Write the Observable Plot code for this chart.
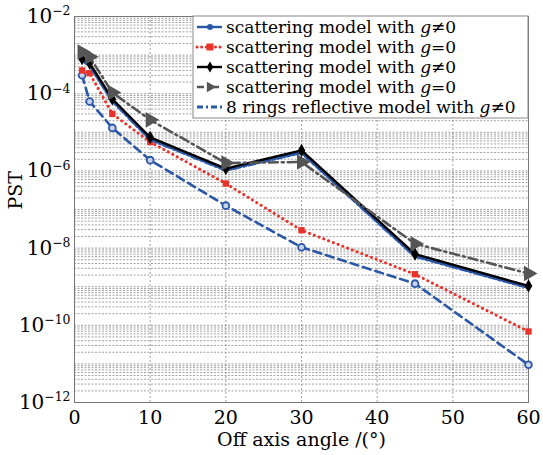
<!DOCTYPE html>
<html><head><meta charset="utf-8">
<script src="https://cdn.jsdelivr.net/npm/d3@7"></script>
<script src="https://cdn.jsdelivr.net/npm/@observablehq/plot@0.6"></script>
<style>body{margin:0;background:#fff}</style>
</head><body><div id="chart"></div>
<script>
const angles = [1, 2, 5, 10, 20, 30, 45, 60];
const s1 = [3.0e-4, 6.3e-5, 1.3e-5, 1.9e-6, 1.26e-7, 1.05e-8, 1.2e-9, 9.5e-12];
const s2 = [4.0e-4, 3.4e-4, 3.0e-5, 5.6e-6, 4.7e-7, 2.9e-8, 2.1e-9, 6.9e-11];
const s3 = [8.1e-4, 6.2e-4, 7.3e-5, 7.4e-6, 1.15e-6, 3.4e-6, 7.0e-9, 1.05e-9];
const s4 = [1.2e-3, 9.0e-4, 1.07e-4, 2.1e-5, 1.6e-6, 1.7e-6, 1.3e-8, 2.2e-9];
const s5 = [7.4e-4, 5.4e-4, 6.6e-5, 6.6e-6, 1.05e-6, 3.0e-6, 6.2e-9, 9.5e-10];
const labels = [
  "scattering model with g≠0",
  "scattering model with g=0",
  "scattering model with g≠0",
  "scattering model with g=0",
  "8 rings reflective model with g≠0"
];
const xTicks = [0, 10, 20, 30, 40, 50, 60];
const yTicks = [1e-12, 1e-10, 1e-8, 1e-6, 1e-4, 1e-2];
const xLabel = "Off axis angle /(°)";
const yLabel = "PST";

const blue = "#2b57a7", red = "#e8322a", black = "#000", gray = "#555";
const rows = a => angles.map((x, i) => ({x, y: a[i]}));

const yGrid = [];
for (let e = -12; e < -2; e++) for (let k = 1; k <= 9; k++) yGrid.push(k * Math.pow(10, e));

const font = "DejaVu Serif";
const chart = Plot.plot({
  width: 543, height: 455,
  marginLeft: 74, marginRight: 15, marginTop: 16, marginBottom: 53,
  style: {fontFamily: font, background: "#fff", color: "#000"},
  x: {domain: [0, 60]},
  y: {type: "log", domain: [1e-12, 1e-2]},
  marks: [
    Plot.ruleY(yGrid, {stroke: "#8a8a8a", strokeWidth: 0.8, strokeDasharray: "2,1.5"}),
    Plot.ruleX([10, 20, 30, 40, 50], {stroke: "#8a8a8a", strokeWidth: 0.8, strokeDasharray: "2,2"}),
    Plot.frame({stroke: "#777", strokeWidth: 1}),
    Plot.axisX({ticks: xTicks, tickSize: 0, tickPadding: 8, fontSize: 19, label: null, tickFormat: d => String(d)}),
    Plot.axisY({ticks: yTicks, tickSize: 0, tickPadding: 4, fontSize: 20, label: null,
      tickFormat: d => "10^" + String(Math.round(Math.log10(d))).replace("-", "−")}),
    Plot.text([xLabel], {frameAnchor: "bottom", dy: 43, fontSize: 19}),
    Plot.text([yLabel], {frameAnchor: "left", dx: -59, rotate: -90, fontSize: 19}),
    Plot.line(rows(s1), {x: "x", y: "y", stroke: blue, strokeWidth: 2.6, strokeDasharray: "8,5"}),
    Plot.dot(rows(s1), {x: "x", y: "y", r: 3.4, stroke: blue, fill: "#c9d4ec", strokeWidth: 1.8}),
    Plot.line(rows(s2), {x: "x", y: "y", stroke: red, strokeWidth: 3, strokeDasharray: "0.1,5", strokeLinecap: "round"}),
    Plot.dot(rows(s2), {x: "x", y: "y", r: 3.6, symbol: "square", fill: red}),
    Plot.line(rows(s5), {x: "x", y: "y", stroke: blue, strokeWidth: 3.4, strokeDasharray: "7,3,2,3"}),
    Plot.line(rows(s3), {x: "x", y: "y", stroke: black, strokeWidth: 2.4}),
    Plot.dot(rows(s3), {x: "x", y: "y", r: 4, symbol: "diamond", fill: black}),
    Plot.line(rows(s4), {x: "x", y: "y", stroke: gray, strokeWidth: 2.6, strokeDasharray: "9,4,2,4"}),
    Plot.dot(rows(s4), {x: "x", y: "y", r: 5.8, symbol: "triangle", rotate: 90, fill: gray})
  ]
});
document.getElementById("chart").appendChild(chart);

// superscript exponents on y tick labels
chart.querySelectorAll('g[aria-label="y-axis tick label"] text').forEach(t => {
  const [b, e] = t.textContent.split("^");
  t.textContent = "";
  const ns = "http://www.w3.org/2000/svg";
  const t1 = document.createElementNS(ns, "tspan"); t1.textContent = b;
  const t2 = document.createElementNS(ns, "tspan"); t2.textContent = e;
  t2.setAttribute("dy", "-0.6em"); t2.setAttribute("font-size", "0.62em");
  t.appendChild(t1); t.appendChild(t2);
});

// legend
const svg = d3.select(chart);
const lg = svg.append("g").attr("font-family", font).attr("font-size", 17).attr("text-anchor", "start");
const lx = 193, ly = 16, lw = 528 - 193, lh = 102;
lg.append("rect").attr("x", lx).attr("y", ly).attr("width", lw).attr("height", lh)
  .attr("fill", "#fff").attr("stroke", "#888");
const styles = [
  {stroke: blue, dash: null, w: 2.4, sym: "circle"},
  {stroke: red, dash: "0.1,4.5", w: 3, sym: "square"},
  {stroke: black, dash: null, w: 2.4, sym: "diamond"},
  {stroke: gray, dash: "7,3,2,3", w: 2.4, sym: "triangle"},
  {stroke: blue, dash: "6,3,2,3", w: 3, sym: null}
];
labels.forEach((lab, i) => {
  const y = 27 + i * 20;
  const st = styles[i];
  lg.append("line").attr("x1", 197).attr("x2", 222).attr("y1", y).attr("y2", y)
    .attr("stroke", st.stroke).attr("stroke-width", st.w)
    .attr("stroke-dasharray", st.dash).attr("stroke-linecap", st.dash && st.dash.startsWith("0.1") ? "round" : null);
  if (st.sym === "circle") lg.append("circle").attr("cx", 210).attr("cy", y).attr("r", 3).attr("fill", blue);
  if (st.sym === "square") lg.append("rect").attr("x", 206.5).attr("y", y - 3.5).attr("width", 7).attr("height", 7).attr("fill", red);
  if (st.sym === "diamond") lg.append("path").attr("transform", `translate(210,${y})`).attr("d", d3.symbol(d3.symbolDiamond, 36)()).attr("fill", black);
  if (st.sym === "triangle") lg.append("path").attr("transform", `translate(210,${y}) rotate(90)`).attr("d", d3.symbol(d3.symbolTriangle, 50)()).attr("fill", gray);
  const gi = lab.lastIndexOf("g");
  const tx = lg.append("text").attr("x", 226).attr("y", y + 6);
  tx.append("tspan").text(lab.slice(0, gi));
  tx.append("tspan").attr("font-style", "italic").text("g");
  tx.append("tspan").text(lab.slice(gi + 1));
});
</script></body></html>
